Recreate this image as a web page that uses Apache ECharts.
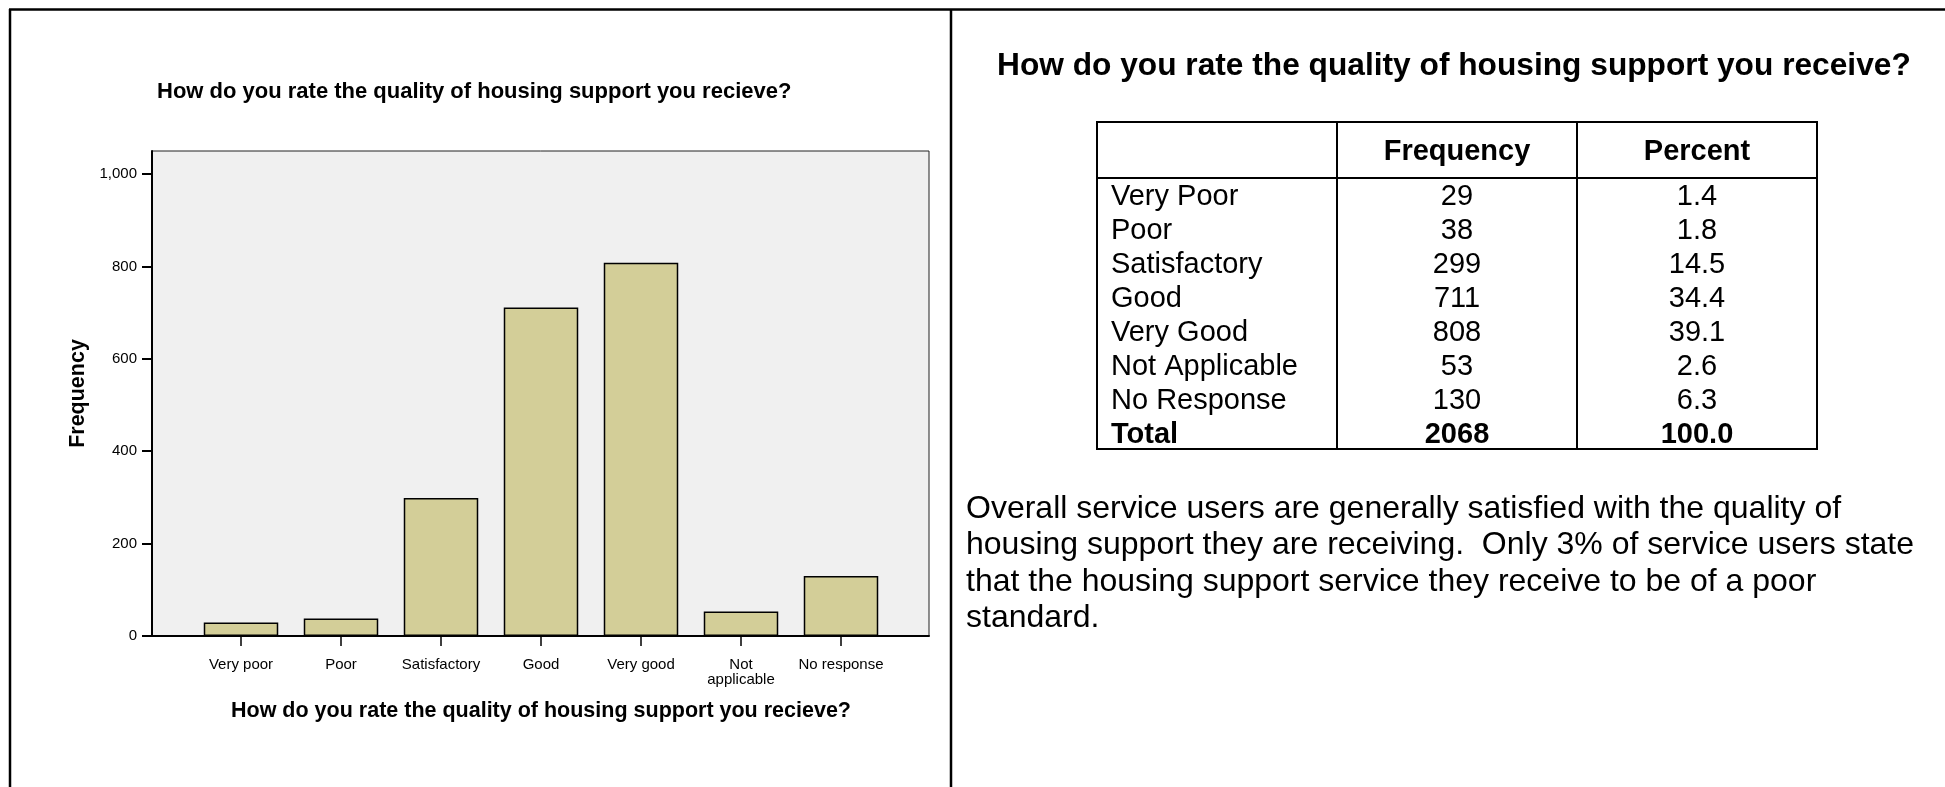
<!DOCTYPE html>
<html>
<head>
<meta charset="utf-8">
<title>Quality of housing support</title>
<script src="https://cdn.jsdelivr.net/npm/echarts@6/dist/echarts.min.js"></script>
<style>
  html, body { margin: 0; padding: 0; background: #fff; }
  #chart { width: 1945px; height: 787px; }
</style>
</head>
<body>
<div id="chart"></div>
<script>
// Survey answers: "How do you rate the quality of housing support you receive?"
const categories = ['Very poor', 'Poor', 'Satisfactory', 'Good', 'Very good', 'Not\napplicable', 'No response'];
const tableRowLabels = ['Very Poor', 'Poor', 'Satisfactory', 'Good', 'Very Good', 'Not Applicable', 'No Response'];
const frequencies = [29, 38, 299, 711, 808, 53, 130];
const percents = [1.4, 1.8, 14.5, 34.4, 39.1, 2.6, 6.3];
const totalLabel = 'Total';
const totalFrequency = 2068;
const totalPercent = 100.0;
const tableHeaders = ['', 'Frequency', 'Percent'];
const yTicks = [0, 200, 400, 600, 800, 1000];
const yMax = 1050;

const chartTitle = 'How do you rate the quality of housing support you recieve?';
const yAxisTitle = 'Frequency';
const tableTitle = 'How do you rate the quality of housing support you receive?';
const commentary = [
  'Overall service users are generally satisfied with the quality of',
  'housing support they are receiving.  Only 3% of service users state',
  'that the housing support service they receive to be of a poor',
  'standard.'
];

const FONT = "'Liberation Sans', Arial, Helvetica, sans-serif";
const INK = '#000';

// cells of the frequency table
const headerCells = tableHeaders.map((t, c) => ({ col: c, row: 0, text: t, bold: true }))
  .filter(c => c.text !== '');
const bodyCells = [];
tableRowLabels.forEach((label, r) => {
  bodyCells.push({ col: 0, row: r, text: label, bold: false });
  bodyCells.push({ col: 1, row: r, text: String(frequencies[r]), bold: false });
  bodyCells.push({ col: 2, row: r, text: percents[r].toFixed(1), bold: false });
});
const totalRow = tableRowLabels.length;
bodyCells.push({ col: 0, row: totalRow, text: totalLabel, bold: true });
bodyCells.push({ col: 1, row: totalRow, text: String(totalFrequency), bold: true });
bodyCells.push({ col: 2, row: totalRow, text: totalPercent.toFixed(1), bold: true });

// text of one table cell, centred in its band (row labels sit at the left)
function cellRenderer(cells, dy) {
  return function (params, api) {
    const cell = cells[params.dataIndex];
    const p = api.coord([api.value(0), api.value(1)]);
    const s = api.size([1, 1]);
    const isLabel = cell.col === 0;
    return {
      type: 'text',
      x: isLabel ? p[0] - s[0] / 2 + 14 : p[0],
      y: p[1] + dy,
      style: {
        text: cell.text,
        align: isLabel ? 'left' : 'center',
        verticalAlign: 'middle',
        fontSize: 29,
        fontWeight: cell.bold ? 'bold' : 'normal',
        fontFamily: FONT,
        fill: INK
      }
    };
  };
}

const thousands = v => String(v).replace(/\B(?=(\d{3})+(?!\d))/g, ',');

const tableColumnAxis = (gridIndex) => ({
  type: 'category', gridIndex, data: tableHeaders.map((h, i) => h || ('col' + i)),
  boundaryGap: true,
  axisLine: { show: false }, axisTick: { show: false }, axisLabel: { show: false },
  splitLine: { show: true, interval: 0, lineStyle: { color: INK, width: 2 } }
});

const chart = echarts.init(document.getElementById('chart'), null, { renderer: 'canvas' });

chart.setOption({
  animation: false,
  backgroundColor: '#fff',
  textStyle: { fontFamily: FONT, color: INK },
  title: [
    {
      text: chartTitle, left: 157, top: 79, padding: 0,
      textStyle: { fontFamily: FONT, fontSize: 22, fontWeight: 'bold', color: INK, lineHeight: 26 }
    },
    {
      text: tableTitle, left: 997, top: 47, padding: 0,
      textStyle: { fontFamily: FONT, fontSize: 31.7, fontWeight: 'bold', color: INK, lineHeight: 38 }
    }
  ],
  grid: [
    // plot frame
    { left: 152, top: 151, width: 777, height: 485, show: true, backgroundColor: '#f0f0f0',
      borderColor: '#222', borderWidth: 1, containLabel: false, outerBoundsMode: 'none' },
    // bar bands
    { left: 191, top: 151, width: 700, height: 485, containLabel: false, outerBoundsMode: 'none' },
    // table header
    { left: 1097, top: 122, width: 720, height: 56, show: true, borderColor: INK, borderWidth: 2,
      backgroundColor: 'transparent', containLabel: false, outerBoundsMode: 'none' },
    // table body
    { left: 1097, top: 178, width: 720, height: 271, show: true, borderColor: INK, borderWidth: 2,
      backgroundColor: 'transparent', containLabel: false, outerBoundsMode: 'none' }
  ],
  xAxis: [
    {
      type: 'value', gridIndex: 0, min: 0, max: 1,
      axisLine: { show: true, lineStyle: { color: INK, width: 2 } },
      axisTick: { show: false }, axisLabel: { show: false }, splitLine: { show: false }
    },
    {
      type: 'category', gridIndex: 1, data: categories, boundaryGap: true,
      axisLine: { show: false },
      axisTick: { show: true, alignWithLabel: true, length: 10, lineStyle: { color: INK, width: 1.5 } },
      axisLabel: { interval: 0, fontSize: 15, lineHeight: 15, margin: 21.5, color: INK, fontFamily: FONT },
      splitLine: { show: false },
      name: chartTitle, nameLocation: 'middle', nameGap: 64,
      nameTextStyle: { fontSize: 21.5, fontWeight: 'bold', color: INK, fontFamily: FONT, lineHeight: 21.5 }
    },
    tableColumnAxis(2),
    tableColumnAxis(3)
  ],
  yAxis: [
    {
      type: 'value', gridIndex: 0, min: 0, max: yMax,
      axisLine: { show: true, lineStyle: { color: INK, width: 2 } },
      axisTick: { show: true, length: 10, customValues: yTicks, lineStyle: { color: INK, width: 2 } },
      axisLabel: { customValues: yTicks, formatter: thousands, fontSize: 15, margin: 15, color: INK, fontFamily: FONT },
      splitLine: { show: false },
      name: yAxisTitle, nameLocation: 'middle', nameGap: 63.5,
      nameTextStyle: { fontSize: 21.5, fontWeight: 'bold', color: INK, fontFamily: FONT, lineHeight: 21.5 }
    },
    { type: 'value', gridIndex: 1, min: 0, max: yMax, show: false },
    {
      type: 'category', gridIndex: 2, data: ['header'], inverse: true,
      axisLine: { show: false }, axisTick: { show: false }, axisLabel: { show: false }, splitLine: { show: false }
    },
    {
      type: 'category', gridIndex: 3, data: tableRowLabels.concat([totalLabel]), inverse: true,
      axisLine: { show: false }, axisTick: { show: false }, axisLabel: { show: false }, splitLine: { show: false }
    }
  ],
  series: [
    {
      type: 'bar', xAxisIndex: 1, yAxisIndex: 1,
      data: frequencies,
      barWidth: 74.5,
      itemStyle: { color: '#d3ce98', borderColor: INK, borderWidth: 1.5 },
      silent: true
    },
    {
      type: 'custom', xAxisIndex: 2, yAxisIndex: 2,
      data: headerCells.map(c => [c.col, c.row]),
      encode: { x: 0, y: 1 },
      renderItem: cellRenderer(headerCells, 2),
      silent: true
    },
    {
      type: 'custom', xAxisIndex: 3, yAxisIndex: 3,
      data: bodyCells.map(c => [c.col, c.row]),
      encode: { x: 0, y: 1 },
      renderItem: cellRenderer(bodyCells, 2.5),
      silent: true
    }
  ],
  graphic: [
    // page frame: top rule, left rule and the divider between the two panels
    { type: 'line', silent: true, shape: { x1: 9, y1: 9.5, x2: 1945, y2: 9.5 }, style: { stroke: INK, lineWidth: 2.5 } },
    { type: 'line', silent: true, shape: { x1: 10, y1: 9, x2: 10, y2: 787 }, style: { stroke: INK, lineWidth: 2.5 } },
    { type: 'line', silent: true, shape: { x1: 951, y1: 9, x2: 951, y2: 787 }, style: { stroke: INK, lineWidth: 2.5 } },
    {
      type: 'text', silent: true, x: 966, y: 490.5,
      style: {
        text: commentary.join('\n'),
        fontSize: 32, fontFamily: FONT, lineHeight: 36.5,
        fill: INK, align: 'left', verticalAlign: 'top'
      }
    }
  ]
});
</script>
</body>
</html>
